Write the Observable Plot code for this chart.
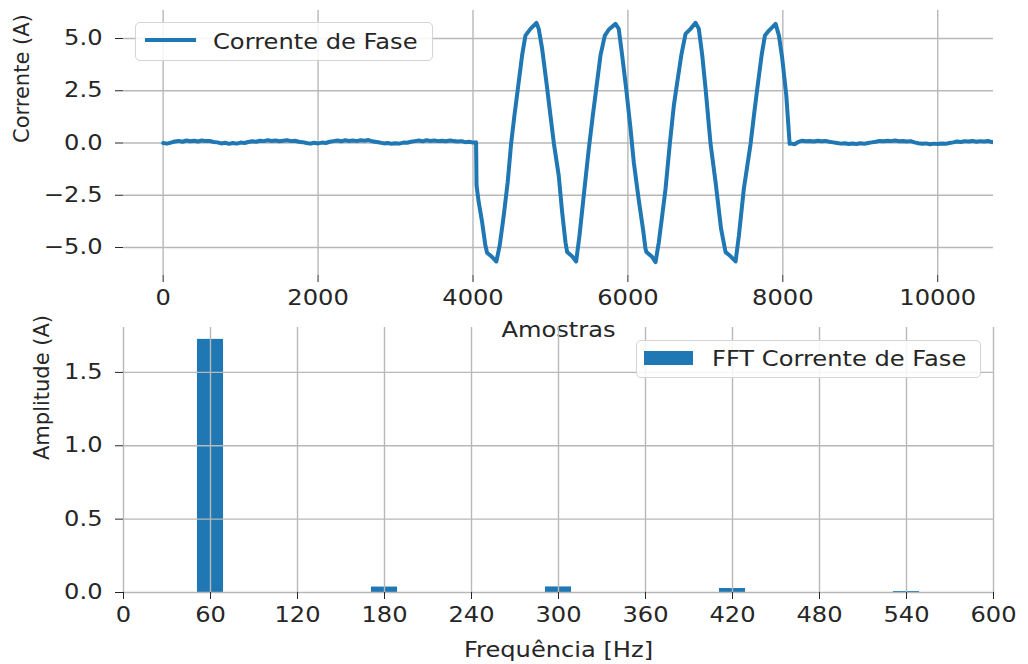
<!DOCTYPE html>
<html><head><meta charset="utf-8">
<script src="https://cdn.jsdelivr.net/npm/d3@7"></script>
<script src="https://cdn.jsdelivr.net/npm/@observablehq/plot@0.6"></script>
<style>
body{margin:0;background:#fff;font-family:"DejaVu Sans",sans-serif;}
#fig{position:relative;width:1028px;height:664px;overflow:hidden;background:#fff;}
#fig svg{position:absolute;left:0;overflow:visible;}
.legend{position:absolute;background:rgba(255,255,255,0.85);border:1.3px solid #d4d4d4;border-radius:5px;box-sizing:border-box;font-size:21px;color:#262626;}
.legend .lab{position:absolute;top:50%;transform:translateY(-50%) scaleX(1.15);transform-origin:left center;white-space:nowrap;}
</style></head><body><div id="fig"></div>
<script>
// ---------- data: phase current (top) ----------
const baseLeftStep = 50; // samples between readings, starting at 0
const baseLeftVals = [0.00,-0.03,0.02,0.07,0.10,0.06,0.12,0.08,0.11,0.07,0.12,0.09,0.10,0.05,0.03,-0.02,0.01,-0.04,0.00,-0.03,
  0.02,0.00,0.05,0.08,0.06,0.11,0.09,0.13,0.10,0.12,0.08,0.11,0.13,0.09,0.11,0.06,0.04,0.00,-0.03,0.01,
  -0.02,0.02,0.00,0.06,0.09,0.12,0.08,0.13,0.10,0.12,0.09,0.13,0.11,0.14,0.08,0.05,0.02,-0.02,0.00,-0.04,
  -0.01,-0.03,0.02,0.01,0.06,0.09,0.12,0.08,0.13,0.10,0.12,0.09,0.11,0.08,0.12,0.10,0.07,0.09,0.04,0.06,0.02];
const waveX = [4040,4046,4074,4118,4160,4182,4247,4302,4345,4397,4448,4492,4535,4590,4634,4677,4742,4819,4849,4893,4948,5000,5045,
  5107,5151,5194,5216,5280,5332,5375,5430,5495,5547,5591,5646,5702,5754,5840,5882,5926,5978,6034,6076,6141,
  6198,6227,6240,6314,6357,6399,6443,6486,6541,6593,6637,6689,6744,6809,6873,6916,6960,7003,7067,7132,7203,
  7261,7326,7390,7433,7497,7584,7627,7670,7726,7769,7821,7907,7950,7993,8045,8088];
const waveY = [0.03,-2.03,-2.83,-3.79,-4.90,-5.25,-5.46,-5.67,-4.90,-3.47,-1.88,-0.04,1.32,2.91,4.19,5.14,5.46,5.75,5.46,4.50,2.91,1.32,-0.04,
  -1.56,-3.31,-4.75,-5.22,-5.42,-5.67,-4.43,-2.51,-0.28,1.32,2.59,4.19,5.14,5.43,5.70,5.46,4.19,2.59,0.68,-0.92,-2.75,
  -4.20,-5.06,-5.22,-5.46,-5.70,-4.75,-3.47,-2.19,-0.04,1.79,2.91,4.19,5.22,5.46,5.75,5.46,4.19,2.59,-0.04,-1.88,-4.11,
  -5.22,-5.42,-5.67,-4.43,-2.19,-0.04,1.32,2.59,4.19,5.14,5.38,5.70,5.14,4.03,2.27,-0.04];
const baseRightStart = 8100, baseRightStep = 50;
const baseRightVals = [-0.02,-0.06,0.05,0.11,0.08,0.10,0.07,0.11,0.08,0.10,0.06,0.03,0.00,-0.03,-0.01,-0.05,-0.02,-0.05,-0.01,-0.04,
  0.00,0.03,0.06,0.10,0.08,0.11,0.09,0.12,0.08,0.10,0.07,0.09,0.03,-0.01,-0.04,-0.02,-0.06,-0.03,-0.05,-0.02,
  -0.04,0.00,0.03,0.07,0.05,0.09,0.07,0.10,0.06,0.09,0.07,0.10,0.04,0.05];
const xTicks1 = [0,2000,4000,6000,8000,10000];
const yTicks1 = [-5,-2.5,0,2.5,5];

// ---------- data: FFT (bottom) ----------
const freqs = [60,180,300,420,540];
const amps = [1.725,0.037,0.038,0.027,0.007];
const barHalfWidth = 9;
const xTicks2 = [0,60,120,180,240,300,360,420,480,540,600];
const yTicks2 = [0,0.5,1.0,1.5];

// build tables
const signal = [];
baseLeftVals.forEach((v,i)=>signal.push({s:i*baseLeftStep, v}));
waveX.forEach((s,i)=>signal.push({s, v:waveY[i]}));
baseRightVals.forEach((v,i)=>signal.push({s:Math.min(baseRightStart+i*baseRightStep,10720), v}));
const fft = freqs.map((f,i)=>({f, a:amps[i]}));

const BLUE = "#1f77b4", GRID = "#b8b8b8", INK = "#262626";
const baseStyle = {background:"transparent", fontFamily:"DejaVu Sans", fontSize:"21px", color:INK, overflow:"visible"};
const STRETCH = 1.15; // reference glyphs are horizontally wide

const p1 = Plot.plot({
  width:1028, height:340,
  marginLeft:123, marginRight:35, marginTop:10, marginBottom:65,
  style: baseStyle,
  x:{domain:[-512,10720]},
  y:{domain:[-6.34,6.34]},
  marks:[
    Plot.gridX(xTicks1,{stroke:GRID, strokeOpacity:1, strokeWidth:1.4}),
    Plot.gridY(yTicks1,{stroke:GRID, strokeOpacity:1, strokeWidth:1.4}),
    Plot.axisX(xTicks1,{tickSize:7, tickPadding:8, tickFormat:d3.format("d"), label:null, stroke:INK, fill:INK}),
    Plot.axisY(yTicks1,{tickSize:8, tickPadding:13, tickFormat:d3.format(".1f"), label:null, stroke:INK, fill:INK}),
    Plot.line(signal,{x:"s", y:"v", stroke:BLUE, strokeWidth:4, clip:true}),
    Plot.text(["Amostras"],{frameAnchor:"bottom", dy:61, fill:INK, fontSize:21}),
    Plot.text(["Corrente (A)"],{frameAnchor:"left", dx:-101, rotate:-90, fill:INK, fontSize:21})
  ]
});

const p2 = Plot.plot({
  width:1028, height:344,
  marginLeft:123, marginRight:35, marginTop:7, marginBottom:72,
  style: baseStyle,
  x:{domain:[0,600]},
  y:{domain:[0,1.806]},
  marks:[
    Plot.rectY(fft,{x1:d=>d.f-barHalfWidth, x2:d=>d.f+barHalfWidth, y1:0, y2:"a", fill:BLUE}),
    Plot.gridX(xTicks2,{stroke:GRID, strokeOpacity:1, strokeWidth:1.4}),
    Plot.gridY(yTicks2,{stroke:GRID, strokeOpacity:1, strokeWidth:1.4}),
    Plot.axisX(xTicks2,{tickSize:7, tickPadding:8, tickFormat:d3.format("d"), label:null, stroke:INK, fill:INK}),
    Plot.axisY(yTicks2,{tickSize:8, tickPadding:13, tickFormat:d3.format(".1f"), label:null, stroke:INK, fill:INK}),
    Plot.text(["Frequência [Hz]"],{frameAnchor:"bottom", dy:64, fill:INK, fontSize:21}),
    Plot.text(["Amplitude (A)"],{frameAnchor:"left", dx:-81, rotate:-90, fill:INK, fontSize:21})
  ]
});

// widen horizontal text about its own anchor (skip rotated labels); keep em-based y offsets
function stretchText(svg){
  svg.querySelectorAll("text").forEach(t=>{
    const tr = t.getAttribute("transform") || "";
    if (tr.includes("rotate")) return;
    let base = tr;
    const x = t.getAttribute("x");
    if (x !== null && /^-?[\d.]+$/.test(x)) {
      base += ` translate(${+x},0)`;
      t.removeAttribute("x");
    }
    t.setAttribute("transform", `${base} scale(${STRETCH},1)`);
  });
}
stretchText(p1); stretchText(p2);

const fig = document.getElementById("fig");
p1.style.top = "0px";
p2.style.top = "320px";
fig.appendChild(p1);
fig.appendChild(p2);

// legends
function legend(left, top, w, h, swatch, label){
  const d = document.createElement("div");
  d.className = "legend";
  Object.assign(d.style,{left:left+"px", top:top+"px", width:w+"px", height:h+"px"});
  const s = document.createElement("div");
  Object.assign(s.style,{position:"absolute", background:BLUE, left:swatch.l+"px", top:swatch.t+"px", width:swatch.w+"px", height:swatch.h+"px"});
  d.appendChild(s);
  const t = document.createElement("div");
  t.className = "lab"; t.textContent = label; t.style.left = swatch.tx+"px";
  d.appendChild(t);
  fig.appendChild(d);
}
legend(135,22,298,39,{l:9,t:15,w:51,h:3.5,tx:77},"Corrente de Fase");
legend(636,340,345,38,{l:7,t:10,w:49,h:14,tx:75},"FFT Corrente de Fase");
</script>
</body></html>
